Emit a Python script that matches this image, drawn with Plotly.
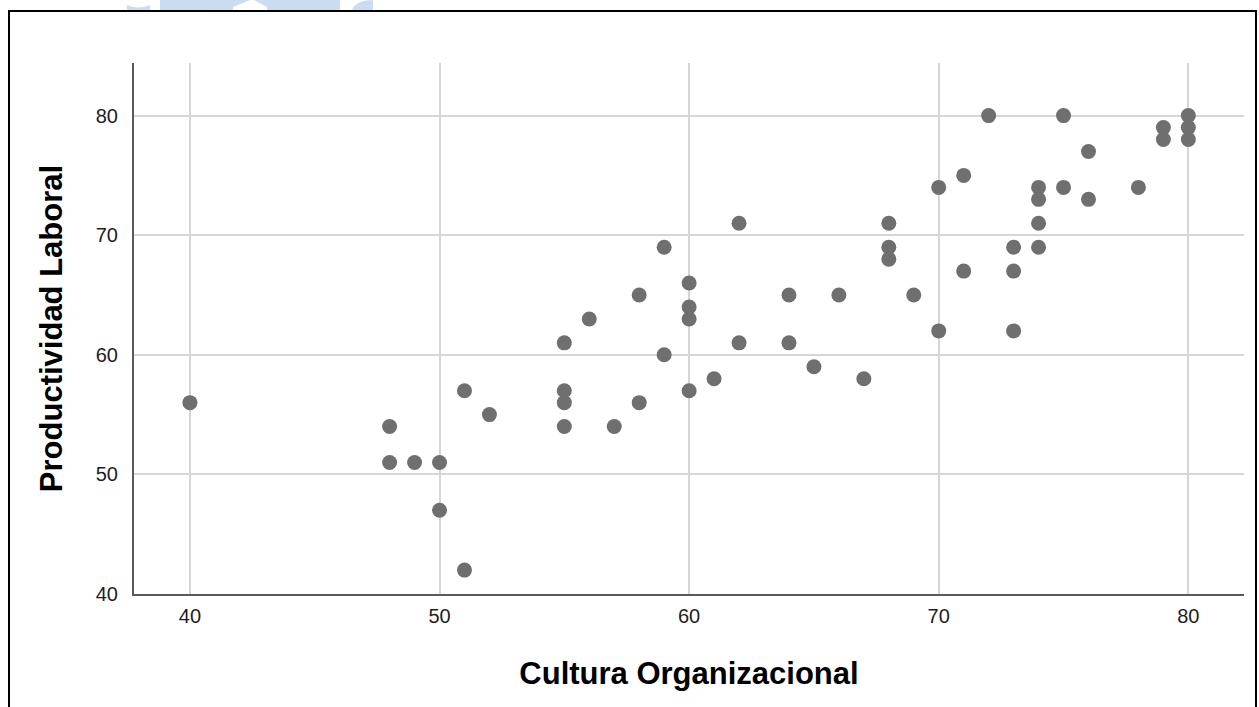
import plotly.graph_objects as go

# Cultura Organizacional (x) vs Productividad Laboral (y)
cultura = [40, 48, 48, 49, 50, 50, 51, 51, 52,
           55, 55, 55, 55, 56, 57, 58, 58, 59, 59,
           60, 60, 60, 60, 61, 62, 62, 64, 64, 65, 66, 67,
           68, 68, 68, 69, 70, 70, 71, 71, 72,
           73, 73, 73, 74, 74, 74, 74, 75, 75, 76, 76, 78,
           79, 79, 80, 80, 80]
productividad = [56, 54, 51, 51, 51, 47, 57, 42, 55,
                 61, 57, 56, 54, 63, 54, 65, 56, 69, 60,
                 66, 64, 63, 57, 58, 71, 61, 65, 61, 59, 65, 58,
                 71, 69, 68, 65, 74, 62, 75, 67, 80,
                 69, 67, 62, 74, 73, 71, 69, 80, 74, 77, 73, 74,
                 79, 78, 80, 79, 78]

tick_vals = [40, 50, 60, 70, 80]
tick_text = ["40", "50", "60", "70", "80"]

FONT = "Liberation Sans, Arial, sans-serif"
W, H = 1259, 707
L, R, T, B = 134, 15, 63, 113
PW, PH = W - L - R, H - T - B


def px_x(px):
    return (px - L) / PW


def px_y(py):
    return (H - B - py) / PH


fig = go.Figure(
    go.Scatter(
        x=cultura,
        y=productividad,
        mode="markers",
        marker=dict(size=15, color="#6f6f6f", line=dict(width=0)),
        hoverinfo="x+y",
    )
)

axis_common = dict(
    tickvals=tick_vals,
    ticktext=tick_text,
    showgrid=True,
    gridcolor="#d6d6d6",
    gridwidth=2,
    zeroline=False,
    showline=True,
    linecolor="#5a5a5a",
    linewidth=2,
    ticks="",
    tickfont=dict(family=FONT, size=20, color="#1e1e1e"),
    title_font=dict(family=FONT, size=31, color="#000000"),
)

fig.update_xaxes(
    range=[37.76, 82.23],
    title_text="<b>Cultura Organizacional</b>",
    title_standoff=36,
    ticklabelstandoff=3,
    **axis_common,
)
fig.update_yaxes(
    range=[40, 84.4],
    title_text="<b>Productividad Laboral</b>",
    title_standoff=24,
    ticklabelstandoff=10,
    **axis_common,
)

# light blue band shapes along the top edge
blue = "#c9dcf0"
shapes = [
    dict(type="rect", xref="paper", yref="paper",
         x0=px_x(160), x1=px_x(233), y0=px_y(10), y1=px_y(0),
         fillcolor=blue, line_width=0, layer="below"),
    dict(type="rect", xref="paper", yref="paper",
         x0=px_x(267), x1=px_x(340), y0=px_y(10), y1=px_y(0),
         fillcolor=blue, line_width=0, layer="below"),
    dict(type="path", xref="paper", yref="paper",
         path=(f"M {px_x(233)},{px_y(0)} L {px_x(250)},{px_y(0)} "
               f"L {px_x(233)},{px_y(7)} Z"),
         fillcolor=blue, line_width=0, layer="below"),
    dict(type="path", xref="paper", yref="paper",
         path=(f"M {px_x(267)},{px_y(7)} L {px_x(254)},{px_y(0)} "
               f"L {px_x(267)},{px_y(0)} Z"),
         fillcolor=blue, line_width=0, layer="below"),
    dict(type="path", xref="paper", yref="paper",
         path=(f"M {px_x(127)},{px_y(5)} Q {px_x(138)},{px_y(10)} {px_x(150)},{px_y(5)} "
               f"L {px_x(150)},{px_y(10)} L {px_x(127)},{px_y(10)} Z"),
         fillcolor=blue, line_width=0, layer="below"),
    dict(type="path", xref="paper", yref="paper",
         path=(f"M {px_x(352)},{px_y(10)} Q {px_x(356)},{px_y(0)} {px_x(373)},{px_y(0)} "
               f"L {px_x(373)},{px_y(10)} Z"),
         fillcolor=blue, line_width=0, layer="below"),
    # outer frame
    dict(type="rect", xref="paper", yref="paper",
         x0=px_x(9), x1=px_x(1256), y0=px_y(730), y1=px_y(11),
         fillcolor="rgba(0,0,0,0)", line=dict(color="#000000", width=2),
         layer="above"),
]

fig.update_layout(
    width=W,
    height=H,
    margin=dict(l=L, r=R, t=T, b=B),
    paper_bgcolor="#ffffff",
    plot_bgcolor="#ffffff",
    showlegend=False,
    shapes=shapes,
)

fig.write_html("out.html")
